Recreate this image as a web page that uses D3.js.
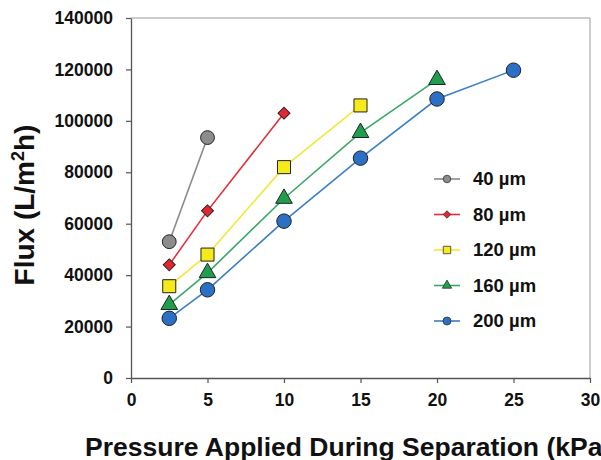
<!DOCTYPE html>
<html>
<head>
<meta charset="utf-8">
<script src="https://cdn.jsdelivr.net/npm/d3@7"></script>
<style>
  body { margin: 0; background: #fff; }
  text { font-family: Arial, "Liberation Sans", sans-serif; font-weight: bold; fill: #111; }
</style>
</head>
<body>
<script>
const series = ["40 µm", "80 µm", "120 µm", "160 µm", "200 µm"];
const pressure = [2.5, 5, 10, 15, 20, 25];
const flux40 = [53000, 93500];
const flux80 = [44000, 65000, 103000];
const flux120 = [35700, 48000, 82000, 106000];
const flux160 = [28500, 40900, 69800, 95400, 116000];
const flux200 = [23200, 34300, 61000, 85500, 108500, 119700];
const xTicks = [0, 5, 10, 15, 20, 25, 30];
const yTicks = [0, 20000, 40000, 60000, 80000, 100000, 120000, 140000];

const styles = [
  {line: "#8a8a8a", fill: "#8c8c8c", shape: d3.symbolCircle, size: 150, legSize: 45, rot: 0},
  {line: "#e33038", fill: "#e32630", shape: d3.symbolSquare, size: 72, legSize: 28, rot: 45},
  {line: "#f2e83a", fill: "#f6ea1a", shape: d3.symbolSquare, size: 170, legSize: 55, rot: 0},
  {line: "#3aa866", fill: "#1f9e4e", shape: d3.symbolTriangle, size: 120, legSize: 38, rot: 0},
  {line: "#3d7fc4", fill: "#2b70c4", shape: d3.symbolCircle, size: 165, legSize: 50, rot: 0}
];
const allFlux = [flux40, flux80, flux120, flux160, flux200];
const data = series.map((name, i) => ({
  name,
  values: allFlux[i].map((v, j) => ({p: pressure[j], f: v}))
}));

const svg = d3.select("body").append("svg")
    .attr("width", 601)
    .attr("height", 460);

const margin = {top: 18, right: 11, bottom: 82, left: 131},
      width = 601 - margin.left - margin.right,
      height = 460 - margin.top - margin.bottom;

const g = svg.append("g").attr("transform", `translate(${margin.left},${margin.top})`);

const x = d3.scaleLinear().domain([0, 30]).range([0, width]);
const y = d3.scaleLinear().domain([0, 140000]).range([height, 0]);

// frame (top and right)
g.append("path")
    .attr("d", `M0,0H${width}V${height}`)
    .attr("fill", "none")
    .attr("stroke", "#999")
    .attr("stroke-width", 1);

const xAxis = g.append("g")
    .attr("transform", `translate(0,${height})`)
    .call(d3.axisBottom(x).tickValues(xTicks).tickFormat(d3.format("d"))
      .tickSize(5).tickPadding(11).tickSizeOuter(0));
const yAxis = g.append("g")
    .call(d3.axisLeft(y).tickValues(yTicks).tickFormat(d3.format("d"))
      .tickSize(5).tickPadding(13).tickSizeOuter(0));

[xAxis, yAxis].forEach(a => {
  a.select(".domain").attr("stroke", "#555").attr("stroke-width", 1.3);
  a.selectAll(".tick line").attr("stroke", "#555").attr("stroke-width", 1.2);
  a.selectAll(".tick text")
    .attr("font-family", "Arial, 'Liberation Sans', sans-serif")
    .attr("font-weight", "bold")
    .attr("font-size", 17.5)
    .attr("fill", "#111");
});

const line = d3.line()
    .x(d => x(d.p))
    .y(d => y(d.f));

data.forEach((s, i) => {
  g.append("path")
      .datum(s.values)
      .attr("fill", "none")
      .attr("stroke", styles[i].line)
      .attr("stroke-width", 1.6)
      .attr("d", line);
});

data.forEach((s, i) => {
  g.selectAll(null)
    .data(s.values)
    .join("path")
      .attr("transform", d => `translate(${x(d.p)},${y(d.f)}) rotate(${styles[i].rot})`)
      .attr("d", d3.symbol().type(styles[i].shape).size(styles[i].size))
      .attr("fill", styles[i].fill)
      .attr("stroke", "#222")
      .attr("stroke-width", 1);
});

// legend
const legend = svg.append("g").attr("transform", "translate(447,179)");
series.forEach((name, i) => {
  const row = legend.append("g").attr("transform", `translate(0,${i * 35.5})`);
  row.append("line")
      .attr("x1", -13).attr("x2", 13)
      .attr("stroke", styles[i].line)
      .attr("stroke-width", 1.6);
  row.append("path")
      .attr("transform", `rotate(${styles[i].rot})`)
      .attr("d", d3.symbol().type(styles[i].shape).size(styles[i].legSize))
      .attr("fill", styles[i].fill)
      .attr("stroke", "#333")
      .attr("stroke-width", 0.8);
  row.append("text")
      .attr("x", 26)
      .attr("dy", "0.35em")
      .attr("font-size", 18.5)
      .text(name);
});

// axis titles
svg.append("text")
    .attr("transform", "translate(34,205) rotate(-90)")
    .attr("text-anchor", "middle")
    .attr("font-size", 28)
    .html("Flux (L/m<tspan dy='-10' font-size='18'>2</tspan><tspan dy='10'>h)</tspan>");

svg.append("text")
    .attr("x", 85)
    .attr("y", 456)
    .attr("font-size", 26.5)
    .text("Pressure Applied During Separation (kPa)");
</script>
</body>
</html>
